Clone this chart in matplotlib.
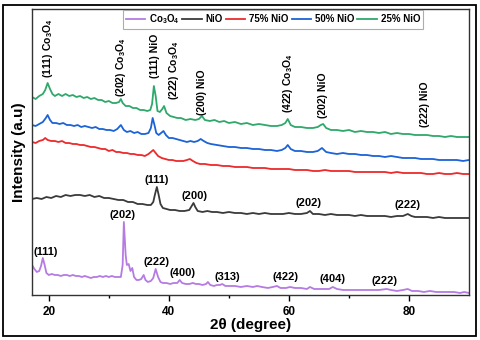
import matplotlib
matplotlib.use('Agg')
import matplotlib.pyplot as plt
from matplotlib.patches import Rectangle

plt.rcParams['font.family'] = ['Liberation Sans', 'DejaVu Sans']
plt.rcParams['font.weight'] = 'bold'
plt.rcParams['mathtext.fontset'] = 'custom'
plt.rcParams['mathtext.rm'] = 'Liberation Sans:bold'
plt.rcParams['mathtext.it'] = 'Liberation Sans:bold'
plt.rcParams['mathtext.bf'] = 'Liberation Sans:bold'

# 2theta (deg) and intensity (offset, a.u)
co3o4_x = [17.2, 17.6, 18.0, 18.4, 18.7, 19.0, 19.3, 19.6, 20.0, 20.5, 21.0, 21.5, 22.0, 22.5, 23.0, 23.5,
           24.0, 24.5, 25.0, 25.5, 26.0, 26.5, 27.0, 27.5, 28.0, 28.5, 29.0, 29.5, 30.0, 30.5, 31.0, 31.5,
           32.0, 32.3, 32.5, 32.8, 33.0, 33.3, 33.6, 33.9, 34.2, 34.6, 35.0, 35.4, 35.8, 36.1, 36.5, 37.0,
           37.4, 37.8, 38.2, 38.6, 39.0, 39.6, 40.2, 40.8, 41.4, 41.8, 42.2, 42.8, 43.4, 44.0, 44.5, 45.0,
           45.6, 46.2, 46.5, 46.9, 47.5, 48.0, 48.5, 48.9, 49.4, 50.0, 51.0, 52.0, 53.0, 54.0, 54.7, 55.5,
           56.5, 57.3, 58.0, 58.6, 59.5, 60.2, 61.0, 62.0, 63.0, 63.5, 64.2, 65.0, 66.0, 66.7, 67.3, 68.0,
           69.0, 70.0, 71.0, 72.0, 73.0, 74.0, 75.0, 76.3, 77.0, 78.0, 79.0, 79.8, 80.5, 81.5, 82.5, 83.5,
           84.5, 85.5, 86.5, 87.5, 88.5, 89.2, 90.0]
co3o4_y = [30, 26, 23, 24, 29, 37, 30, 22, 20, 21, 20, 20, 19, 20, 20, 19,
           20, 19, 19, 18, 19, 18, 17, 18, 18, 19, 18, 19, 18, 19, 18, 18,
           18, 30, 73, 40, 30, 31, 24, 27, 18, 15, 15, 16, 20, 15, 13, 14,
           17, 26, 18, 13, 12, 12, 11, 12, 12, 15, 12, 11, 11, 12, 11, 11,
           10, 11, 13, 10, 9, 10, 10, 11, 9, 9, 9, 8, 9, 8, 9, 8,
           7, 8, 9, 7, 7, 8, 7, 7, 6, 8, 6, 6, 6, 6, 8, 6,
           5, 5, 5, 5, 5, 5, 5, 6, 5, 4, 5, 6, 4, 4, 3, 4,
           3, 3, 3, 3, 2, 3, 2]

nio_x = [17.2, 18.0, 18.8, 19.6, 20.4, 21.2, 22.0, 22.8, 23.6, 24.4, 25.2, 26.0, 26.8, 27.6, 28.4, 29.2,
         30.0, 30.8, 31.6, 32.4, 33.2, 34.0, 34.8, 35.6, 36.4, 37.0, 37.4, 37.7, 38.0, 38.3, 38.6, 39.0,
         39.6, 40.2, 41.0, 41.8, 42.6, 43.4, 43.8, 44.1, 44.4, 44.8, 45.6, 46.4, 47.2, 48.0, 49.0, 50.0,
         51.0, 52.0, 53.0, 54.0, 55.0, 56.0, 57.0, 58.0, 59.0, 60.0, 61.0, 62.0, 63.0, 63.5, 64.0, 65.0,
         66.0, 67.0, 68.0, 69.0, 70.0, 71.0, 72.0, 73.0, 74.0, 75.0, 76.0, 77.0, 78.0, 79.0, 79.8, 80.4,
         81.0, 82.0, 83.0, 84.0, 85.0, 86.0, 87.0, 88.0, 89.0, 90.0]
nio_y = [96, 97, 96, 98, 97, 99, 98, 100, 99, 100, 100, 99, 100, 98, 99, 97,
         97, 96, 95, 95, 93, 93, 91, 91, 90, 90, 93, 101, 108, 100, 91, 87,
         86, 85, 85, 84, 84, 85, 89, 92, 88, 84, 83, 84, 83, 83, 82, 83,
         82, 82, 81, 82, 81, 82, 81, 81, 81, 82, 81, 81, 82, 84, 81, 81,
         80, 81, 80, 80, 80, 79, 80, 79, 79, 79, 79, 78, 79, 79, 81, 79,
         78, 78, 78, 77, 78, 77, 77, 77, 77, 77]

nio75_x = [17.2, 17.8, 18.4, 19.0, 19.4, 19.8, 20.4, 21.0, 21.6, 22.2, 22.8, 23.4, 24.0, 24.6, 25.2, 25.8,
           26.4, 27.0, 27.6, 28.2, 28.8, 29.4, 30.0, 30.6, 31.2, 31.8, 32.4, 33.0, 33.6, 34.2, 34.8, 35.4,
           36.0, 36.6, 37.0, 37.4, 37.8, 38.2, 38.8, 39.4, 40.0, 40.6, 41.2, 41.8, 42.4, 43.0, 43.5, 44.0,
           44.6, 45.2, 46.0, 47.0, 48.0, 49.0, 50.0, 51.0, 52.0, 53.0, 54.0, 55.0, 56.0, 57.0, 58.0, 59.0,
           60.0, 61.0, 62.0, 63.0, 64.0, 65.0, 66.0, 67.0, 68.0, 69.0, 70.0, 71.0, 72.0, 73.0, 74.0, 75.0,
           76.0, 77.0, 78.0, 79.0, 80.0, 81.0, 82.0, 83.0, 84.0, 85.0, 86.0, 87.0, 88.0, 89.0, 90.0]
nio75_y = [153, 152, 154, 155, 157, 155, 154, 154, 153, 154, 152, 152, 151, 151, 150, 150,
           149, 148, 148, 147, 146, 146, 144, 145, 143, 143, 142, 142, 141, 141, 140, 140,
           139, 141, 143, 145, 142, 139, 137, 136, 135, 135, 134, 134, 134, 135, 136, 134,
           132, 131, 131, 130, 130, 129, 129, 128, 128, 128, 127, 127, 127, 126, 126, 126,
           126, 125, 125, 125, 124, 124, 125, 124, 124, 124, 124, 123, 123, 123, 123, 123,
           123, 122, 123, 122, 122, 122, 122, 121, 121, 122, 121, 121, 122, 121, 121]

nio50_x = [17.2, 17.8, 18.4, 19.0, 19.5, 19.8, 20.2, 20.6, 21.2, 21.8, 22.4, 23.0, 23.6, 24.2, 24.8, 25.4,
           26.0, 26.6, 27.2, 27.8, 28.4, 29.0, 29.6, 30.2, 30.8, 31.4, 32.0, 32.5, 33.0, 33.6, 34.2, 34.8,
           35.4, 36.0, 36.6, 37.0, 37.3, 37.6, 37.9, 38.3, 38.7, 39.1, 39.5, 40.0, 40.6, 41.2, 41.8, 42.4,
           43.0, 43.6, 44.2, 44.8, 45.3, 45.8, 46.4, 47.0, 48.0, 49.0, 50.0, 51.0, 52.0, 53.0, 54.0, 55.0,
           56.0, 57.0, 58.0, 58.8, 59.4, 59.8, 60.3, 61.0, 62.0, 63.0, 64.0, 64.8, 65.5, 66.2, 67.0, 68.0,
           69.0, 70.0, 71.0, 72.0, 73.0, 74.0, 75.0, 76.0, 77.0, 78.0, 79.0, 80.0, 81.0, 82.0, 83.0, 84.0,
           85.0, 86.0, 87.0, 88.0, 89.0, 90.0]
nio50_y = [170, 169, 171, 173, 177, 180, 175, 172, 172, 171, 172, 170, 170, 169, 170, 168,
           169, 168, 167, 168, 166, 166, 165, 165, 164, 166, 170, 165, 163, 164, 162, 163,
           161, 161, 162, 167, 177, 170, 162, 160, 162, 164, 160, 157, 157, 156, 155, 154,
           153, 154, 153, 154, 156, 154, 152, 151, 150, 149, 148, 148, 147, 147, 146, 146,
           145, 145, 144, 145, 147, 150, 146, 144, 144, 143, 143, 144, 147, 143, 142, 141,
           142, 141, 141, 140, 140, 139, 139, 138, 139, 138, 137, 137, 137, 136, 136, 136,
           135, 135, 135, 135, 134, 135]

nio25_x = [17.2, 17.8, 18.4, 19.0, 19.4, 19.8, 20.2, 20.6, 21.0, 21.6, 22.2, 22.8, 23.4, 24.0, 24.6, 25.2,
           25.8, 26.4, 27.0, 27.6, 28.2, 28.8, 29.4, 30.0, 30.6, 31.2, 31.7, 32.0, 32.3, 32.8, 33.4, 34.0,
           34.6, 35.2, 35.8, 36.4, 36.9, 37.2, 37.5, 37.8, 38.1, 38.5, 38.9, 39.2, 39.6, 40.2, 40.8, 41.4,
           42.0, 42.8, 43.6, 44.4, 45.0, 45.5, 46.0, 46.8, 47.6, 48.4, 49.2, 50.0, 51.0, 52.0, 53.0, 54.0,
           55.0, 56.0, 57.0, 58.0, 58.8, 59.4, 59.8, 60.3, 61.0, 62.0, 63.0, 64.0, 64.8, 65.3, 65.7, 66.2,
           67.0, 68.0, 69.0, 70.0, 71.0, 72.0, 73.0, 74.0, 75.0, 76.0, 77.0, 78.0, 79.0, 80.0, 81.0, 82.0,
           83.0, 84.0, 85.0, 86.0, 87.0, 88.0, 89.0, 90.0]
nio25_y = [198, 196, 199, 201, 205, 212, 206, 201, 199, 201, 199, 201, 199, 200, 198, 199,
           197, 198, 196, 197, 195, 195, 193, 194, 192, 192, 193, 196, 192, 189, 189, 187,
           187, 185, 185, 184, 185, 191, 209, 199, 184, 183, 186, 189, 182, 179, 178, 177,
           177, 175, 176, 175, 176, 179, 175, 174, 175, 173, 174, 172, 173, 171, 172, 170,
           171, 170, 169, 169, 170, 172, 176, 170, 168, 168, 167, 167, 168, 170, 171, 167,
           165, 165, 164, 165, 163, 164, 163, 163, 162, 163, 161, 162, 161, 161, 160, 160,
           160, 159, 159, 158, 159, 158, 158, 158]

names = ['Co$_3$O$_4$', 'NiO', '75% NiO', '50% NiO', '25% NiO']
colors = ['#b67be2', '#3a3a3a', '#ec2a2c', '#1b63d6', '#2fa86b']

# peak labels
top_labels = ['(111) Co$_3$O$_4$', '(202) Co$_3$O$_4$', '(111) NiO', '(222) Co$_3$O$_4$',
              '(200) NiO', '(422) Co$_3$O$_4$', '(202) NiO', '(222) NiO']
top_x = [19.8, 32.0, 37.7, 40.8, 45.5, 59.8, 65.7, 82.7]
top_y = [217, 198, 217, 195, 180, 182, 177, 168]

nio_labels = ['(111)', '(200)', '(202)', '(222)']
nio_lx = [38.0, 44.2, 63.2, 79.8]
nio_ly = [115, 99, 92, 90]

co_labels = ['(202)', '(111)', '(222)', '(400)', '(313)', '(422)', '(404)', '(222)']
co_lx = [32.3, 19.5, 38.0, 42.3, 49.7, 59.5, 67.2, 76.0]
co_ly = [80, 43, 33, 22, 18, 18, 16, 14]

fig = plt.figure(figsize=(4.8, 3.4), dpi=100)
ax = fig.add_axes([0.0667, 0.1324, 0.9104, 0.8411])

series = [(co3o4_x, co3o4_y), (nio_x, nio_y), (nio75_x, nio75_y), (nio50_x, nio50_y), (nio25_x, nio25_y)]
for (x, y), c, n in zip(series, colors, names):
    ax.plot(x, y, color=c, lw=1.3, label=n)

for t, x, y in zip(top_labels, top_x, top_y):
    ax.text(x, y, t, rotation=90, ha='center', va='bottom', fontsize=7.5)
for t, x, y in zip(nio_labels, nio_lx, nio_ly):
    ax.text(x, y, t, ha='center', va='center', fontsize=8)
for t, x, y in zip(co_labels, co_lx, co_ly):
    ax.text(x, y, t, ha='center', va='center', fontsize=8)

ax.set_xlim(17.2, 90)
ax.set_ylim(0, 286)
ax.set_xticks([20, 40, 60, 80])
ax.set_xticks([30, 50, 70], minor=True)
ax.set_yticks([])
ax.tick_params(axis='x', which='major', length=4, width=1, labelsize=8.5, pad=4)
ax.tick_params(axis='x', which='minor', length=2, width=1)
for s in ax.spines.values():
    s.set_linewidth(1.0)
    s.set_color('#333333')

ax.set_xlabel('2θ (degree)', fontsize=11, fontweight='bold', labelpad=0)
ax.set_ylabel('Intensity (a.u)', fontsize=11, fontweight='bold', labelpad=4)

leg = ax.legend(loc='upper center', bbox_to_anchor=(0.551, 0.998), ncol=5, fontsize=7,
                frameon=True, fancybox=False, handlelength=2.0, handletextpad=0.4,
                columnspacing=0.3, borderpad=0.3, borderaxespad=0)
leg.get_frame().set_edgecolor('#999999')
leg.get_frame().set_linewidth(0.8)

fig.patches.append(Rectangle((3 / 480, 4 / 340), 473 / 480, 331 / 340, transform=fig.transFigure,
                             fill=False, edgecolor='black', lw=1.3))

fig.savefig('out.png', dpi=100)
